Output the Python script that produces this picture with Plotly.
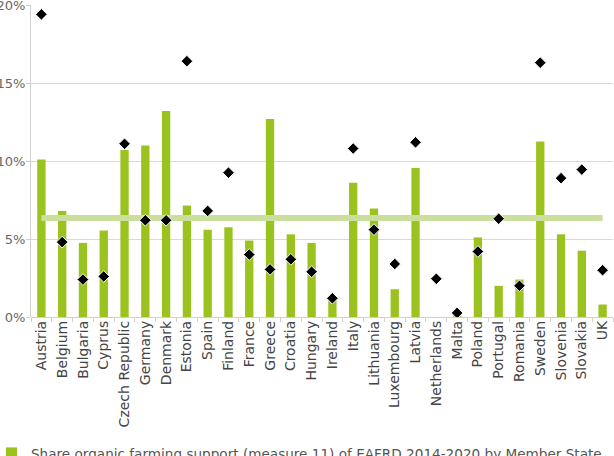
import plotly.graph_objects as go

countries = ["Austria", "Belgium", "Bulgaria", "Cyprus", "Czech Republic", "Germany", "Denmark",
             "Estonia", "Spain", "Finland", "France", "Greece", "Croatia", "Hungary", "Ireland",
             "Italy", "Lithuania", "Luxembourg", "Latvia", "Netherlands", "Malta", "Poland",
             "Portugal", "Romania", "Sweden", "Slovenia", "Slovakia", "UK"]

organic_support_share = [10.1, 6.8, 4.75, 5.55, 10.7, 11.0, 13.2, 7.15, 5.6, 5.75, 4.9, 12.7, 5.3,
                         4.75, 1.13, 8.6, 6.95, 1.78, 9.55, 0.0, 0.1, 5.1, 2.0, 2.4, 11.25, 5.3, 4.25, 0.8]

organic_area_share = [19.4, 4.8, 2.4, 2.6, 11.1, 6.2, 6.2, 16.4, 6.8, 9.25, 4.0, 3.05, 3.7,
                      2.9, 1.2, 10.8, 5.6, 3.4, 11.2, 2.45, 0.26, 4.2, 6.3, 2.0, 16.3, 8.9, 9.45, 3.0]

eu_average = 6.35
eu_average_line = [eu_average] * len(countries)

y_ticks = [0, 5, 10, 15, 20]
y_tick_labels = ["0%", "5%", "10%", "15%", "20%"]

font_family = "DejaVu Sans"

fig = go.Figure()
fig.add_trace(go.Bar(
    x=countries, y=organic_support_share,
    name="Share organic farming support (measure 11) of EAFRD 2014-2020 by Member State",
    marker=dict(color="#9bc31f", line=dict(width=0)),
))
fig.add_trace(go.Scatter(
    x=countries, y=eu_average_line, mode="lines",
    line=dict(color="#c9df9b", width=6), showlegend=False, name="EU average",
))
fig.add_trace(go.Scatter(
    x=countries, y=organic_area_share, mode="markers",
    marker=dict(symbol="diamond", size=9, color="black", line=dict(color="white", width=1)),
    showlegend=False, name="Organic area share",
))

fig.update_layout(
    width=614, height=456,
    margin=dict(l=31, r=1, t=5, b=139, autoexpand=False),
    plot_bgcolor="white", paper_bgcolor="white",
    bargap=0.6,
    font=dict(family=font_family, color="#555555", size=14),
    legend=dict(orientation="h", x=-0.043, xanchor="left", y=-0.388, yanchor="top",
                indentation=-15,
                font=dict(size=13.6, color="#555555"), bgcolor="rgba(0,0,0,0)"),
    xaxis=dict(range=[-0.5, len(countries) - 0.5], tickangle=-90, ticks="outside",
               tickson="boundaries", ticklen=4, ticklabeloverflow="allow",
               tickcolor="#d0d0d0", showgrid=False, showline=False, automargin=False,
               tickfont=dict(size=14, color="#444444")),
    yaxis=dict(range=[0, 20], tickvals=y_ticks, ticktext=y_tick_labels, automargin=False,
               ticklabeloverflow="allow", ticklabelstandoff=-2,
               showgrid=True, gridcolor="#d9d9d9", gridwidth=1,
               showline=True, linecolor="#d0d0d0", linewidth=1,
               zeroline=True, zerolinecolor="#d0d0d0", zerolinewidth=1,
               ticks="outside", ticklen=4, tickcolor="#d0d0d0",
               tickfont=dict(size=13, color="#666666")),
)

fig.write_html("out.html")
